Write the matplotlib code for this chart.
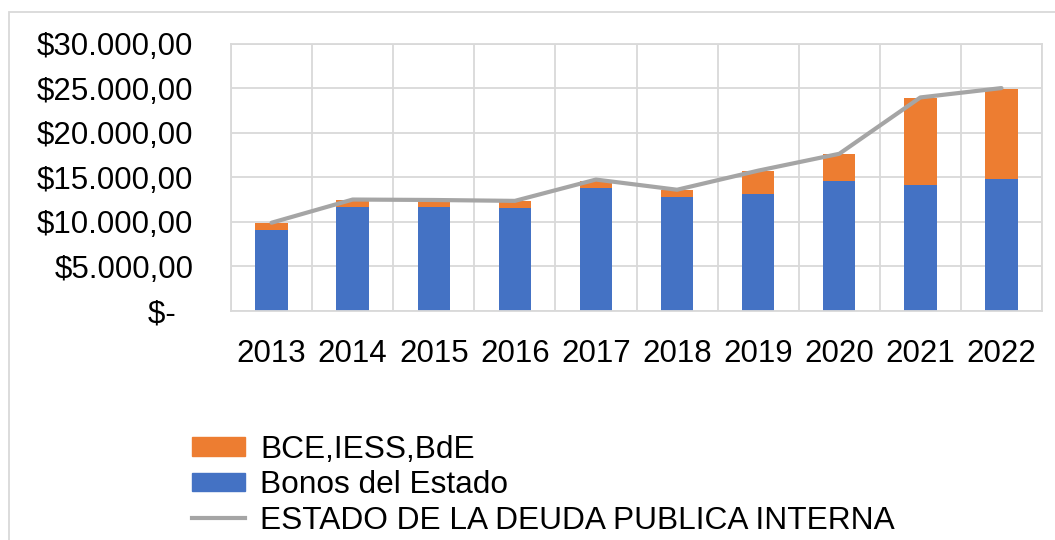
import matplotlib
matplotlib.use("Agg")
import matplotlib.pyplot as plt
from matplotlib.patches import Rectangle
from matplotlib.lines import Line2D
import numpy as np

years = ["2013", "2014", "2015", "2016", "2017", "2018", "2019", "2020", "2021", "2022"]
bonos = [9080, 11700, 11700, 11560, 13850, 12810, 13070, 14630, 14150, 14780]
bce_iess_bde = [780, 740, 600, 770, 780, 780, 2670, 3000, 9750, 10140]
deuda_interna = [9900, 12500, 12450, 12350, 14740, 13600, 15740, 17630, 23950, 25000]
yticks = [0, 5000, 10000, 15000, 20000, 25000, 30000]
ytick_labels = ["$-  ", "$5.000,00", "$10.000,00", "$15.000,00", "$20.000,00", "$25.000,00", "$30.000,00"]

plt.rcParams['font.family'] = ['Liberation Sans', 'DejaVu Sans']

BLUE = "#4472C4"
ORANGE = "#ED7D31"
GRAY = "#A5A5A5"
GRID = "#D9D9D9"

fig = plt.figure(figsize=(10.55, 5.40), dpi=100)
ax = fig.add_axes([231/1055, 1-311/540, (1042-231)/1055, (311-43.5)/540])

x = np.arange(len(years))
ax.bar(x, bonos, width=0.4, color=BLUE, zorder=2, label="Bonos del Estado")
ax.bar(x, bce_iess_bde, width=0.4, bottom=bonos, color=ORANGE, zorder=2, label="BCE,IESS,BdE")
ax.plot(x, deuda_interna, color=GRAY, lw=3, zorder=3, solid_capstyle='round',
        label="ESTADO DE LA DEUDA PUBLICA INTERNA")

ax.set_xlim(-0.5, len(years) - 0.5)
ax.set_ylim(0, 30000)
ax.set_yticks(yticks)
ax.set_yticklabels(ytick_labels)
ax.set_xticks(x)
ax.set_xticklabels(years)
ax.set_xticks(np.arange(-0.5, len(years)), minor=True)
ax.tick_params(axis='both', which='both', length=0, labelsize=22.5)
ax.tick_params(axis='y', pad=27)
ax.tick_params(axis='x', pad=20)
ax.grid(axis='y', color=GRID, lw=1.3, zorder=0)
ax.grid(axis='x', which='minor', color=GRID, lw=1.3, zorder=0)
for s in ax.spines.values():
    s.set_color(GRID)
    s.set_linewidth(1.3)

handles = [Rectangle((0, 0), 1, 1, color=ORANGE),
           Rectangle((0, 0), 1, 1, color=BLUE),
           Line2D([0], [0], color=GRAY, lw=3)]
labels = ["BCE,IESS,BdE", "Bonos del Estado", "ESTADO DE LA DEUDA PUBLICA INTERNA"]
fig.legend(handles, labels, loc='upper left', bbox_to_anchor=(192/1055, 1-435/540),
           frameon=False, fontsize=22.8, handlelength=1.66, handleheight=0.53,
           handletextpad=0.5, labelspacing=0.167, borderpad=0, borderaxespad=0)

fig.patches.append(Rectangle((9/1055, -0.05), 1.1, 1-12/540+0.05, transform=fig.transFigure,
                             fill=False, edgecolor=GRID, lw=1.3))

fig.savefig("out.png", dpi=100)
